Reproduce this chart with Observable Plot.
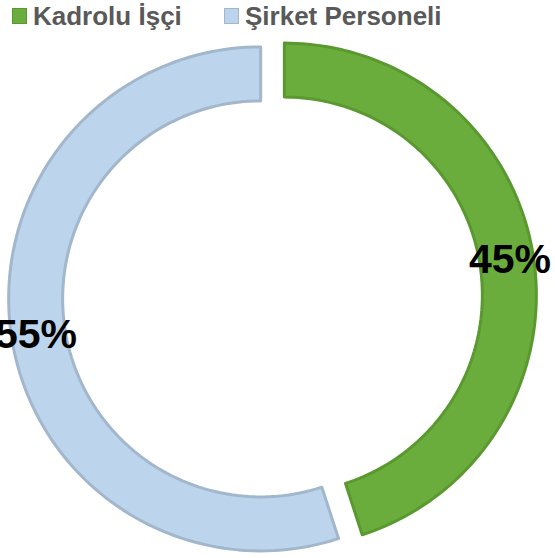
<!DOCTYPE html>
<html>
<head>
<meta charset="utf-8">
<script src="https://cdn.jsdelivr.net/npm/d3@7"></script>
<script src="https://cdn.jsdelivr.net/npm/@observablehq/plot@0.6"></script>
<style>
  html, body { margin: 0; padding: 0; background: #fff; }
  #wrap { position: relative; width: 555px; height: 558px; overflow: hidden; font-family: "Liberation Sans", Arial, sans-serif; }
  #legend { position: relative; height: 30px; }
  .sw { position: absolute; top: 8px; width: 15px; height: 16px; box-sizing: border-box; }
  .lt { position: absolute; top: 3px; font-size: 26px; line-height: 26px; font-weight: bold; color: #595959; white-space: nowrap; }
  #chart svg { display: block; }
</style>
</head>
<body>
<div id="wrap">
  <div id="legend"></div>
  <div id="chart"></div>
</div>
<script>
// ---- data ----
const categories = ["Kadrolu İşçi", "Şirket Personeli"];
const values = [45, 55];
const labels = ["45%", "55%"];

// ---- styles ----
const fills = ["#6bad3c", "#bcd5ec"];
const strokes = ["#5a9830", "#a2b7cb"];
const swatchBorders = ["#5a9830", "#a2b7cb"];

// ---- layout ----
const W = 555, H = 528;          // svg size (legend is 30px above)
const cx = 272.5, cy = 267;      // ring centre in svg pixels
const R = 252, r = 198;          // outer / inner radius
const explode = 12;              // slice explosion
const N = 120;

// legend
const legend = document.getElementById("legend");
const legendPos = [{sw: 12, tx: 33}, {sw: 224, tx: 245}];
categories.forEach((c, i) => {
  const s = document.createElement("div");
  s.className = "sw";
  s.style.left = legendPos[i].sw + "px";
  s.style.background = fills[i];
  s.style.border = "1px solid " + swatchBorders[i];
  legend.appendChild(s);
  const t = document.createElement("div");
  t.className = "lt";
  t.style.left = legendPos[i].tx + "px";
  t.textContent = c;
  legend.appendChild(t);
});

// build ring slices from the values
const total = d3.sum(values);
let cum = 0;
const slices = categories.map((c, i) => {
  const a0 = cum / total * 2 * Math.PI;
  cum += values[i];
  const a1 = cum / total * 2 * Math.PI;
  const mid = (a0 + a1) / 2;
  const ox = explode * Math.sin(mid), oy = explode * Math.cos(mid);
  const pts = d3.range(N + 1).map(k => {
    const a = a0 + (a1 - a0) * k / N;
    return {
      cat: c,
      xo: ox + R * Math.sin(a), yo: oy + R * Math.cos(a),
      xi: ox + r * Math.sin(a), yi: oy + r * Math.cos(a)
    };
  });
  const lr = (R + r) / 2 + 3;
  const label = {cat: c, text: labels[i], x: ox + lr * Math.sin(mid), y: oy + lr * Math.cos(mid)};
  return {pts, label};
});

const marks = [];
slices.forEach((s, i) => {
  marks.push(Plot.area(s.pts, {
    x1: "xo", y1: "yo", x2: "xi", y2: "yi",
    fill: fills[i], stroke: strokes[i], strokeWidth: 3, strokeLinejoin: "round"
  }));
});
marks.push(Plot.text(slices.map(s => s.label), {
  x: "x", y: "y", text: "text",
  fontSize: 41, fontWeight: "bold", fill: "#000",
  fontFamily: "'Liberation Sans', Arial, sans-serif"
}));

const chart = Plot.plot({
  width: W, height: H, margin: 0,
  x: {type: "linear", domain: [-cx, W - cx], range: [0, W], axis: null},
  y: {type: "linear", domain: [-(H - cy), cy], range: [H, 0], axis: null},
  marks
});
document.getElementById("chart").appendChild(chart);
</script>
</body>
</html>
